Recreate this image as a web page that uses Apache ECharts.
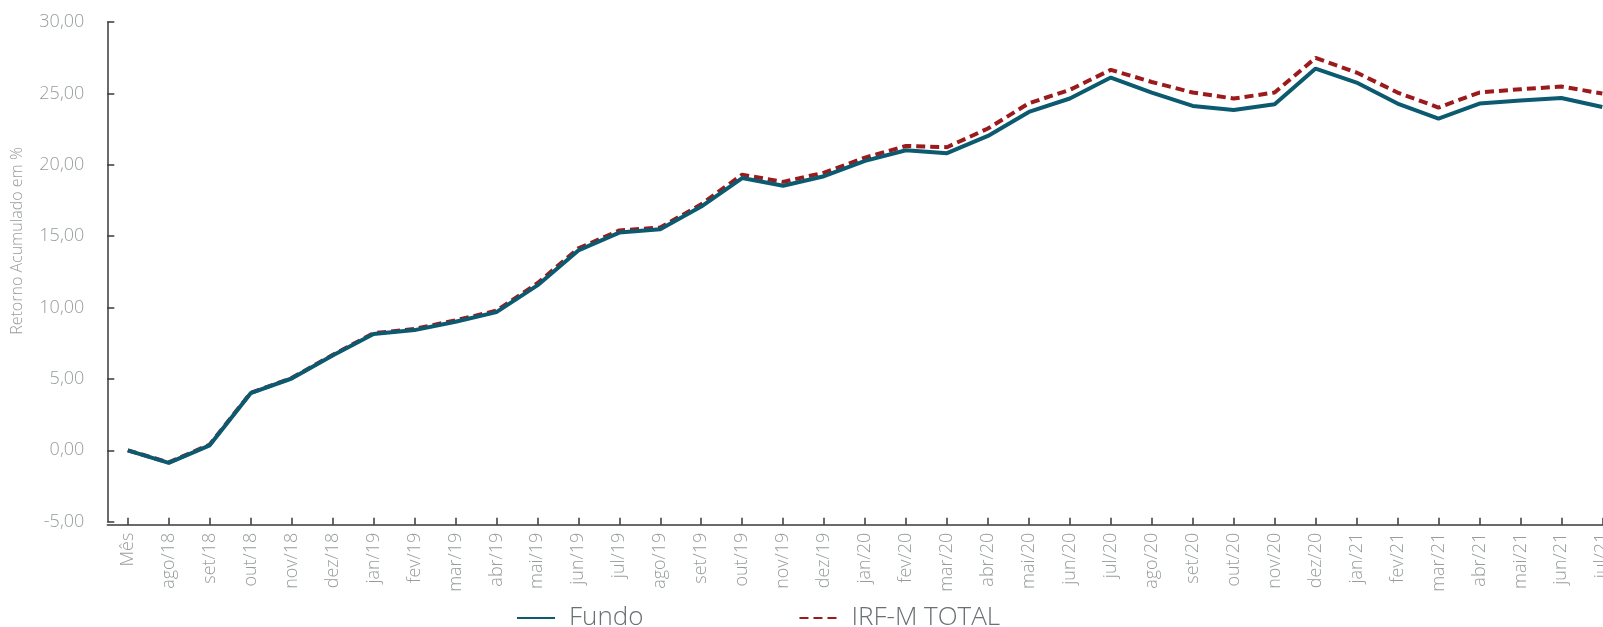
<!DOCTYPE html>
<html>
<head>
<meta charset="utf-8">
<script src="https://cdn.jsdelivr.net/npm/echarts@6/dist/echarts.min.js"></script>
<style>
  html, body { margin: 0; padding: 0; background: #fff; overflow: hidden; }
  /* The canvas is wider than the window so the last month runs off the right edge */
  #chart { width: 1640px; height: 627px; }
</style>
</head>
<body>
<div id="chart"></div>
<script>
// Months on the category axis
const months = [
  'Mês', 'ago/18', 'set/18', 'out/18', 'nov/18', 'dez/18',
  'jan/19', 'fev/19', 'mar/19', 'abr/19', 'mai/19', 'jun/19', 'jul/19', 'ago/19', 'set/19', 'out/19', 'nov/19', 'dez/19',
  'jan/20', 'fev/20', 'mar/20', 'abr/20', 'mai/20', 'jun/20', 'jul/20', 'ago/20', 'set/20', 'out/20', 'nov/20', 'dez/20',
  'jan/21', 'fev/21', 'mar/21', 'abr/21', 'mai/21', 'jun/21', 'jul/21'
];

// Accumulated return of the fund (%)
const fundo = [
  0.00, -0.88, 0.35, 4.00, 5.03, 6.64,
  8.14, 8.42, 9.00, 9.68, 11.55, 14.00, 15.25, 15.48, 17.07, 19.07, 18.53, 19.20,
  20.27, 21.02, 20.81, 22.02, 23.70, 24.64, 26.11, 25.06, 24.12, 23.84, 24.24, 26.74,
  25.76, 24.29, 23.24, 24.29, 24.50, 24.68, 24.05
];

// Accumulated return of the IRF-M TOTAL benchmark (%)
const irfm = [
  0.00, -0.85, 0.40, 4.02, 5.06, 6.68,
  8.20, 8.50, 9.10, 9.78, 11.70, 14.14, 15.40, 15.60, 17.23, 19.31, 18.80, 19.45,
  20.50, 21.32, 21.23, 22.54, 24.31, 25.25, 26.65, 25.80, 25.06, 24.64, 25.06, 27.49,
  26.46, 25.06, 24.01, 25.06, 25.29, 25.48, 24.99
];

// Value axis tick labels, from -5 to 30
const yTickLabels = ['-5,00', '0,00', '5,00', '10,00', '15,00', '20,00', '25,00', '30,00'];

const axisColor = '#3a3a3a';
const labelColor = '#979c9d';
const fontFamily = '"Open Sans", "Noto Sans", sans-serif';

const chart = echarts.init(document.getElementById('chart'), null, { renderer: 'canvas' });

chart.setOption({
  animation: false,
  backgroundColor: '#ffffff',
  grid: {
    left: 107.3,
    top: 22,
    bottom: 105.3,
    right: 17.2,
    containLabel: false
  },
  legend: {
    data: ['Fundo', 'IRF-M TOTAL'],
    left: 511,
    top: 600,
    itemWidth: 38,
    itemHeight: 14,
    itemGap: 155,
    itemStyle: { opacity: 0 },
    textStyle: {
      fontFamily: fontFamily,
      fontWeight: 300,
      fontSize: 26,
      color: '#697072',
      padding: [0, 0, 0, 9]
    }
  },
  graphic: [{
    type: 'text',
    x: 17,
    y: 241,
    rotation: Math.PI / 2,
    style: {
      text: 'Retorno Acumulado em %',
      fontFamily: fontFamily,
      fontWeight: 300,
      fontSize: 16,
      fill: labelColor,
      align: 'center',
      verticalAlign: 'middle'
    }
  }],
  xAxis: {
    type: 'category',
    data: months,
    boundaryGap: true,
    offset: 3,
    axisLine: { show: true, onZero: false, lineStyle: { color: axisColor, width: 1.5 } },
    axisTick: { show: true, inside: true, length: 7, alignWithLabel: true, lineStyle: { color: axisColor, width: 1.5 } },
    axisLabel: {
      rotate: 90,
      interval: 0,
      margin: 8,
      fontFamily: fontFamily,
      fontWeight: 300,
      fontSize: 18,
      color: labelColor
    },
    splitLine: { show: false }
  },
  yAxis: {
    type: 'value',
    min: -5,
    max: 30,
    interval: 5,
    axisLine: { show: true, lineStyle: { color: axisColor, width: 1.5 } },
    axisTick: { show: true, inside: true, length: 7, lineStyle: { color: axisColor, width: 1.5 } },
    axisLabel: {
      margin: 23,
      fontFamily: fontFamily,
      fontWeight: 300,
      fontSize: 18,
      color: labelColor,
      formatter: function (v) {
        const idx = Math.round((v + 5) / 5);
        return yTickLabels[idx] !== undefined ? yTickLabels[idx] : '';
      }
    },
    splitLine: { show: false }
  },
  series: [
    {
      name: 'IRF-M TOTAL',
      type: 'line',
      data: irfm,
      symbol: 'none',
      smooth: false,
      color: '#9b1a1c',
      lineStyle: { color: '#9b1a1c', width: 4, type: [9, 5] },
      z: 2
    },
    {
      name: 'Fundo',
      type: 'line',
      data: fundo,
      symbol: 'none',
      smooth: false,
      color: '#0b5a70',
      lineStyle: { color: '#0b5a70', width: 4, type: 'solid' },
      z: 3
    }
  ]
});
</script>
</body>
</html>
